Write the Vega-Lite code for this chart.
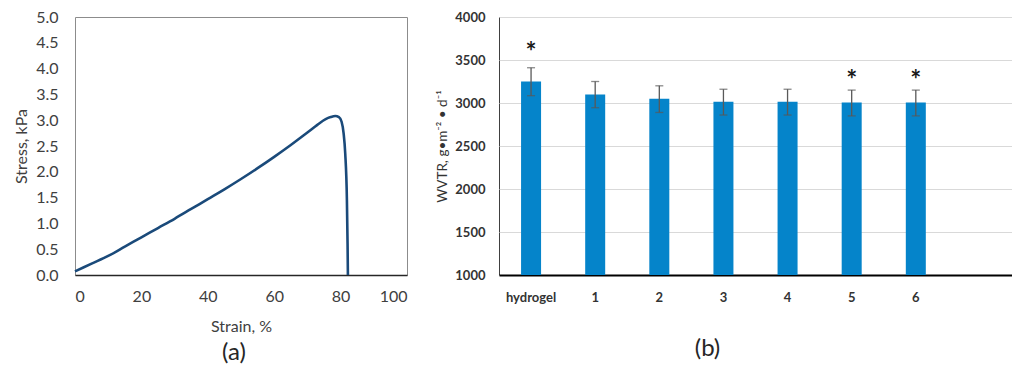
{
  "$schema": "https://vega.github.io/schema/vega-lite/v6.json",
  "background": "white",
  "padding": {"left": 13, "top": 8, "right": 0, "bottom": 0},
  "config": {
    "font": "Lato",
    "axis": {"labelColor": "#404040", "titleColor": "#404040", "ticks": false, "titleFontWeight": "normal"},
    "concat": {"spacing": 27}
  },
  "hconcat": [
    {
      "width": 332,
      "height": 258,
      "title": {"text": "(a)", "orient": "bottom", "fontSize": 24, "fontWeight": "normal", "color": "#262626", "offset": 7, "dx": -7},
      "view": {"stroke": "#8c8c8c", "strokeWidth": 1},
      "data": {"values": [
        {"strain": 0, "stress": 0.07},
        {"strain": 5, "stress": 0.22},
        {"strain": 10, "stress": 0.37},
        {"strain": 15, "stress": 0.55},
        {"strain": 20, "stress": 0.73},
        {"strain": 25, "stress": 0.91},
        {"strain": 30, "stress": 1.09},
        {"strain": 35, "stress": 1.28},
        {"strain": 40, "stress": 1.47},
        {"strain": 45, "stress": 1.66},
        {"strain": 50, "stress": 1.86},
        {"strain": 55, "stress": 2.07},
        {"strain": 60, "stress": 2.29},
        {"strain": 65, "stress": 2.52},
        {"strain": 70, "stress": 2.76},
        {"strain": 73, "stress": 2.91},
        {"strain": 75.5, "stress": 3.02},
        {"strain": 77, "stress": 3.06},
        {"strain": 78.4, "stress": 3.08},
        {"strain": 79.5, "stress": 3.06},
        {"strain": 80.3, "stress": 2.97},
        {"strain": 80.9, "stress": 2.75},
        {"strain": 81.4, "stress": 2.35},
        {"strain": 81.9, "stress": 1.45},
        {"strain": 82.1, "stress": 0.6},
        {"strain": 82.2, "stress": 0.0}
      ]},
      "mark": {"type": "line", "color": "#1a4a7a", "strokeWidth": 2.6, "interpolate": "monotone"},
      "encoding": {
        "x": {"field": "strain", "type": "quantitative",
              "scale": {"domain": [0, 100], "nice": false},
              "axis": {"title": "Strain, %", "values": [0, 20, 40, 60, 80, 100], "grid": false,
                       "domainColor": "#262626", "domainWidth": 1.5,
                       "labelFontSize": 16, "titleFontSize": 16, "labelPadding": 13, "titlePadding": 14}},
        "y": {"field": "stress", "type": "quantitative",
              "scale": {"domain": [0, 5], "nice": false},
              "axis": {"title": "Stress, kPa", "values": [0, 0.5, 1, 1.5, 2, 2.5, 3, 3.5, 4, 4.5, 5], "format": ".1f",
                       "grid": false, "domain": false,
                       "labelFontSize": 16, "titleFontSize": 16, "labelPadding": 17, "titlePadding": 6}}
      }
    },
    {
      "width": 513,
      "height": 258,
      "title": {"text": "(b)", "orient": "bottom", "fontSize": 24, "fontWeight": "normal", "color": "#262626", "offset": 33, "dx": -48},
      "view": {"stroke": "#404040", "strokeWidth": 1},
      "data": {"values": [
        {"sample": "hydrogel", "wvtr": 3250, "lo": 3085, "hi": 3410, "star": 3700},
        {"sample": "1", "wvtr": 3100, "lo": 2945, "hi": 3250, "star": null},
        {"sample": "2", "wvtr": 3050, "lo": 2890, "hi": 3200, "star": null},
        {"sample": "3", "wvtr": 3015, "lo": 2860, "hi": 3160, "star": null},
        {"sample": "4", "wvtr": 3015, "lo": 2860, "hi": 3160, "star": null},
        {"sample": "5", "wvtr": 3005, "lo": 2850, "hi": 3150, "star": 3372},
        {"sample": "6", "wvtr": 3005, "lo": 2850, "hi": 3150, "star": 3372}
      ]},
      "encoding": {
        "x": {"field": "sample", "type": "nominal",
              "scale": {"domain": ["hydrogel", "1", "2", "3", "4", "5", "6", " "], "paddingInner": 0, "paddingOuter": 0},
              "axis": {"title": null, "labelAngle": 0, "labelFontSize": 13, "labelFontWeight": "bold", "labelColor": "#333333",
                       "labelPadding": 16, "domainColor": "#000000", "domainWidth": 2, "grid": false}}
      },
      "layer": [
        {
          "mark": {"type": "bar", "color": "#0584ca", "size": 20},
          "encoding": {
            "y": {"field": "wvtr", "type": "quantitative",
                  "scale": {"domain": [1000, 4000], "nice": false},
                  "axis": {"title": "WVTR, g•m⁻² • d⁻¹", "values": [1000, 1500, 2000, 2500, 3000, 3500, 4000], "format": "d",
                           "grid": true, "gridColor": "#d9d9d9", "gridWidth": 1, "domain": false,
                           "labelFontSize": 13, "labelFontWeight": "bold", "labelColor": "#333333", "labelPadding": 14,
                           "titleFontSize": 13.5, "titleColor": "#333333", "titlePadding": 5}},
            "y2": {"datum": 1000}
          }
        },
        {
          "mark": {"type": "rule", "color": "#595959", "strokeWidth": 1.3},
          "encoding": {"y": {"field": "lo", "type": "quantitative"}, "y2": {"field": "hi"}}
        },
        {
          "mark": {"type": "tick", "color": "#595959", "thickness": 1.3, "size": 8},
          "encoding": {"y": {"field": "lo", "type": "quantitative"}}
        },
        {
          "mark": {"type": "tick", "color": "#595959", "thickness": 1.3, "size": 8},
          "encoding": {"y": {"field": "hi", "type": "quantitative"}}
        },
        {
          "transform": [{"filter": "datum.star != null"}],
          "mark": {"type": "text", "text": "*", "fontSize": 26, "fontWeight": "bold", "color": "#1a1a1a", "baseline": "middle", "dy": 10},
          "encoding": {"y": {"field": "star", "type": "quantitative"}}
        }
      ]
    }
  ]
}
